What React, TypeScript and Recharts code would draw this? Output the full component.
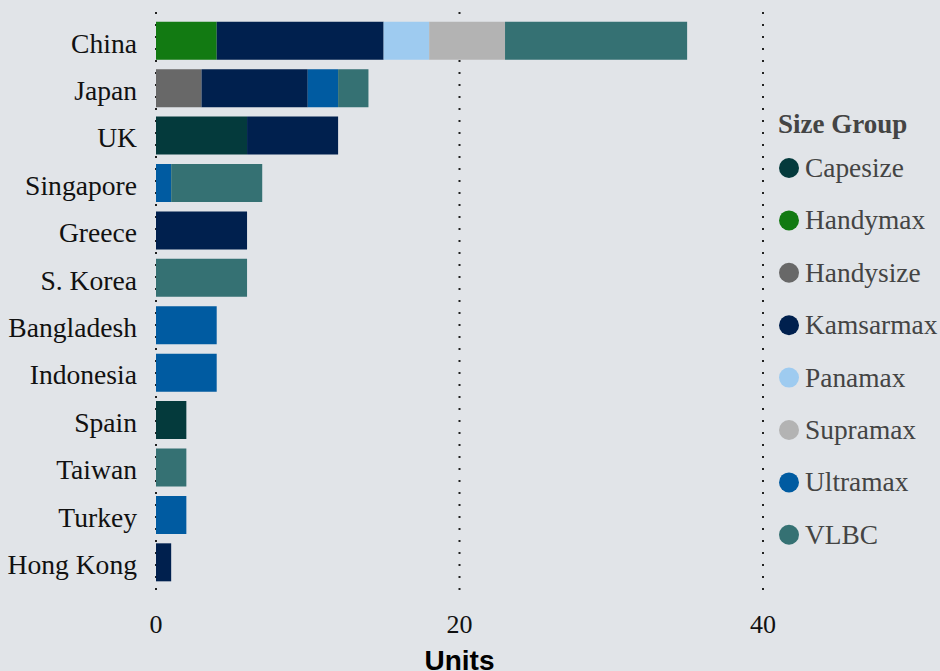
import React from 'react';
import { BarChart, Bar, XAxis, YAxis, CartesianGrid, Legend } from 'recharts';

// Countries (top to bottom)
const countries = ['China', 'Japan', 'UK', 'Singapore', 'Greece', 'S. Korea', 'Bangladesh', 'Indonesia', 'Spain', 'Taiwan', 'Turkey', 'Hong Kong'];

// Units per size group, one value per country
const capesize = [0, 0, 6, 0, 0, 0, 0, 0, 2, 0, 0, 0];
const handymax = [4, 0, 0, 0, 0, 0, 0, 0, 0, 0, 0, 0];
const handysize = [0, 3, 0, 0, 0, 0, 0, 0, 0, 0, 0, 0];
const kamsarmax = [11, 7, 6, 0, 6, 0, 0, 0, 0, 0, 0, 1];
const panamax = [3, 0, 0, 0, 0, 0, 0, 0, 0, 0, 0, 0];
const supramax = [5, 0, 0, 0, 0, 0, 0, 0, 0, 0, 0, 0];
const ultramax = [0, 2, 0, 1, 0, 0, 4, 4, 0, 0, 2, 0];
const vlbc = [12, 2, 0, 6, 0, 6, 0, 0, 0, 2, 0, 0];

const xTicks = [0, 20, 40];

const groups = [
    { key: 'Capesize', values: capesize, color: '#043a3c' },
    { key: 'Handymax', values: handymax, color: '#127a12' },
    { key: 'Handysize', values: handysize, color: '#686868' },
    { key: 'Kamsarmax', values: kamsarmax, color: '#00204e' },
    { key: 'Panamax', values: panamax, color: '#9ecbf0' },
    { key: 'Supramax', values: supramax, color: '#b3b3b3' },
    { key: 'Ultramax', values: ultramax, color: '#005ba1' },
    { key: 'VLBC', values: vlbc, color: '#357173' },
];

const data = countries.map((country, i) => {
    const row: Record<string, string | number> = { country };
    groups.forEach((g) => {
        row[g.key] = g.values[i];
    });
    return row;
});

const serif = '"Liberation Serif", "Times New Roman", serif';

const renderLegend = () => (
    <svg width={170} height={470}>
        <text x={8} y={33} fontFamily={serif} fontSize={27} fontWeight="bold" fill="#444">
            Size Group
        </text>
        {groups.map((g, i) => {
            const cy = 68 + i * 52.4;
            return (
                <g key={g.key}>
                    <circle cx={19} cy={cy} r={10} fill={g.color} />
                    <text x={35} y={cy + 9} fontFamily={serif} fontSize={27.4} fill="#444">
                        {g.key}
                    </text>
                </g>
            );
        })}
    </svg>
);

const App = () => {
    return (
        <div style={{ position: 'absolute', top: 0, left: 0, width: 940, height: 671, background: '#e1e4e8', overflow: 'hidden' }}>
            <BarChart
                width={940}
                height={671}
                data={data}
                layout="vertical"
                barCategoryGap="10%"
                margin={{ top: 12, right: 177, left: 0, bottom: 0 }}
            >
                <CartesianGrid horizontal={false} stroke="#222" strokeWidth={2} strokeDasharray="2 10" />
                <XAxis
                    type="number"
                    domain={[0, 40]}
                    ticks={xTicks}
                    height={71}
                    tickLine={false}
                    axisLine={false}
                    tickSize={6}
                    tickMargin={9}
                    tick={{ fontFamily: serif, fontSize: 26, fill: '#111' }}
                    label={{
                        value: 'Units',
                        position: 'insideBottom',
                        offset: 1,
                        style: { fontFamily: '"Liberation Sans", Arial, sans-serif', fontSize: 28, fontWeight: 900, fill: '#000' },
                    }}
                />
                <YAxis
                    type="category"
                    dataKey="country"
                    width={156}
                    padding={{ top: 5, bottom: 14 }}
                    tickLine={false}
                    axisLine={false}
                    tickSize={6}
                    tickMargin={13}
                    interval={0}
                    tick={{ fontFamily: serif, fontSize: 27.6, fill: '#111', dy: 2 }}
                />
                <Legend
                    layout="vertical"
                    align="center"
                    verticalAlign="middle"
                    content={renderLegend}
                    wrapperStyle={{ top: 100, left: 770, width: 170 }}
                />
                {groups.map((g) => (
                    <Bar key={g.key} dataKey={g.key} stackId="a" fill={g.color} isAnimationActive={false} />
                ))}
            </BarChart>
        </div>
    );
};

export default App;
